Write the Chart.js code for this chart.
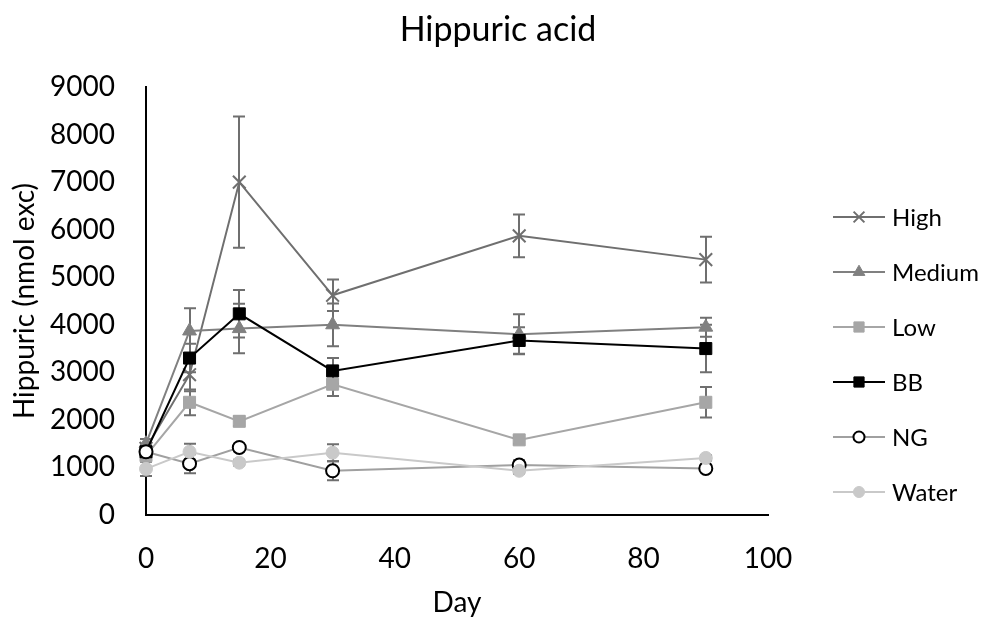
<!DOCTYPE html>
<html>
<head>
<meta charset="utf-8">
<title>Hippuric acid</title>
<script src="https://cdn.jsdelivr.net/npm/chart.js@4/dist/chart.umd.min.js"></script>
<style>
  html, body { margin: 0; padding: 0; background: #fff; }
  #wrap { width: 1001px; height: 620px; }
</style>
</head>
<body>
<div id="wrap"><canvas id="chart" width="1001" height="620"></canvas></div>
<script>
// values
const days = [0, 7, 15, 30, 60, 90];
const seriesNames = ['High', 'Medium', 'Low', 'BB', 'NG', 'Water'];

const high = [1400, 2950, 7000, 4620, 5870, 5370];
const medium = [1500, 3870, 3920, 4000, 3800, 3950];
const low = [1250, 2370, 1970, 2750, 1580, 2370];
const bb = [1330, 3300, 4230, 3030, 3670, 3500];
const ng = [1330, 1080, 1420, 930, 1050, 980];
const water = [970, 1330, 1100, 1310, 930, 1200];

// +/- error bar sizes
const highErr = [100, 350, 1380, 330, 450, 480];
const mediumErr = [100, 480, 520, 450, 420, 200];
const lowErr = [100, 270, 100, 250, 80, 320];
const bbErr = [100, 300, 500, 270, 280, 500];
const ngErr = [80, 200, 80, 200, 100, 60];
const waterErr = [150, 170, 60, 180, 60, 60];

const yTicks = [0, 1000, 2000, 3000, 4000, 5000, 6000, 7000, 8000, 9000];
const xTicks = [0, 20, 40, 60, 80, 100];

const FONT = 'Lato, "Open Sans", sans-serif';

// --- series styling ---
const styles = [
    { line: '#6f6f6f', pointStyle: 'crossRot', radius: 9, fill: '#6f6f6f', border: '#6f6f6f', bw: 2 },
    { line: '#808080', pointStyle: 'triangle', radius: 8, fill: '#808080', border: '#808080', bw: 1 },
    { line: '#a6a6a6', pointStyle: 'rect', radius: 8.5, fill: '#a6a6a6', border: '#a6a6a6', bw: 1 },
    { line: '#000000', pointStyle: 'rect', radius: 8.5, fill: '#000000', border: '#000000', bw: 1 },
    { line: '#a0a0a0', pointStyle: 'circle', radius: 6.5, fill: '#ffffff', border: '#000000', bw: 2 },
    { line: '#c9c9c9', pointStyle: 'circle', radius: 6.5, fill: '#c9c9c9', border: '#c9c9c9', bw: 1 }
];
const values = [high, medium, low, bb, ng, water];
const errors = [highErr, mediumErr, lowErr, bbErr, ngErr, waterErr];

const datasets = seriesNames.map((name, i) => ({
    label: name,
    data: days.map((d, j) => ({ x: d, y: values[i][j] })),
    borderColor: styles[i].line,
    borderWidth: 2,
    backgroundColor: styles[i].fill,
    pointStyle: styles[i].pointStyle,
    pointRadius: styles[i].radius,
    pointBackgroundColor: styles[i].fill,
    pointBorderColor: styles[i].border,
    pointBorderWidth: styles[i].bw,
    tension: 0,
    clip: false,
    order: seriesNames.length - i // later series on top, like Excel
}));

// Error bars drawn under the lines
const errorBars = {
    id: 'errorBars',
    beforeDatasetsDraw(chart) {
        const { ctx, scales: { x, y } } = chart;
        ctx.save();
        ctx.strokeStyle = '#6f6f6f';
        ctx.lineWidth = 2;
        errors.forEach((errs, i) => {
            errs.forEach((e, j) => {
                const px = Math.round(x.getPixelForValue(days[j]));
                const top = y.getPixelForValue(values[i][j] + e);
                const bot = y.getPixelForValue(values[i][j] - e);
                ctx.beginPath();
                ctx.moveTo(px, top); ctx.lineTo(px, bot);
                ctx.moveTo(px - 6, top); ctx.lineTo(px + 6, top);
                ctx.moveTo(px - 6, bot); ctx.lineTo(px + 6, bot);
                ctx.stroke();
            });
        });
        ctx.restore();
    }
};

// Title centred on the whole canvas + Excel style legend on the right
const sideLegend = {
    id: 'sideLegend',
    afterDraw(chart) {
        const ctx = chart.ctx;
        ctx.save();
        ctx.fillStyle = '#000';
        ctx.font = '34px ' + FONT;
        ctx.textAlign = 'center';
        ctx.textBaseline = 'middle';
        ctx.fillText('Hippuric acid', 498, 30);

        ctx.font = '24px ' + FONT;
        ctx.textAlign = 'left';
        seriesNames.forEach((name, i) => {
            const yy = 217 + i * 55;
            const st = styles[i];
            ctx.strokeStyle = st.line;
            ctx.lineWidth = 2;
            ctx.beginPath();
            ctx.moveTo(833, yy); ctx.lineTo(885, yy);
            ctx.stroke();
            ctx.fillStyle = st.fill;
            ctx.strokeStyle = st.border;
            ctx.lineWidth = st.bw;
            Chart.helpers.drawPoint(ctx, {
                pointStyle: st.pointStyle, radius: st.radius * 0.85, borderWidth: st.bw, rotation: 0
            }, 859, yy);
            ctx.fillStyle = '#000';
            ctx.fillText(name, 892, yy + 1);
        });
        ctx.restore();
    }
};

new Chart(document.getElementById('chart'), {
    type: 'line',
    data: { datasets },
    options: {
        responsive: false,
        animation: false,
        layout: { padding: { left: 0, right: 233, top: 87, bottom: 0 } },
        plugins: {
            legend: { display: false },
            tooltip: { enabled: false },
            title: { display: false }
        },
        scales: {
            x: {
                type: 'linear',
                min: 0, max: 100,
                afterFit(scale) { scale.height = 105; },
                afterBuildTicks(scale) { scale.ticks = xTicks.map(v => ({ value: v })); },
                grid: { display: false, drawTicks: false },
                border: { display: true, color: '#000', width: 2 },
                ticks: { color: '#000', padding: 27, font: { family: FONT, size: 28 }, callback: v => String(v) },
                title: {
                    display: true, text: 'Day', color: '#000',
                    font: { family: FONT, size: 28 },
                    padding: { top: 0, bottom: 0 }
                }
            },
            y: {
                min: 0, max: 9000,
                afterFit(scale) { scale.width = 146; },
                afterBuildTicks(scale) { scale.ticks = yTicks.map(v => ({ value: v })); },
                grid: { display: false, drawTicks: false },
                border: { display: true, color: '#000', width: 2 },
                ticks: { color: '#000', padding: 31, font: { family: FONT, size: 28 }, callback: v => String(v) },
                title: {
                    display: true, text: 'Hippuric (nmol exc)', color: '#000',
                    font: { family: FONT, size: 28 },
                    padding: { top: 8, bottom: 0 }
                }
            }
        }
    },
    plugins: [errorBars, sideLegend]
});
</script>
</body>
</html>
